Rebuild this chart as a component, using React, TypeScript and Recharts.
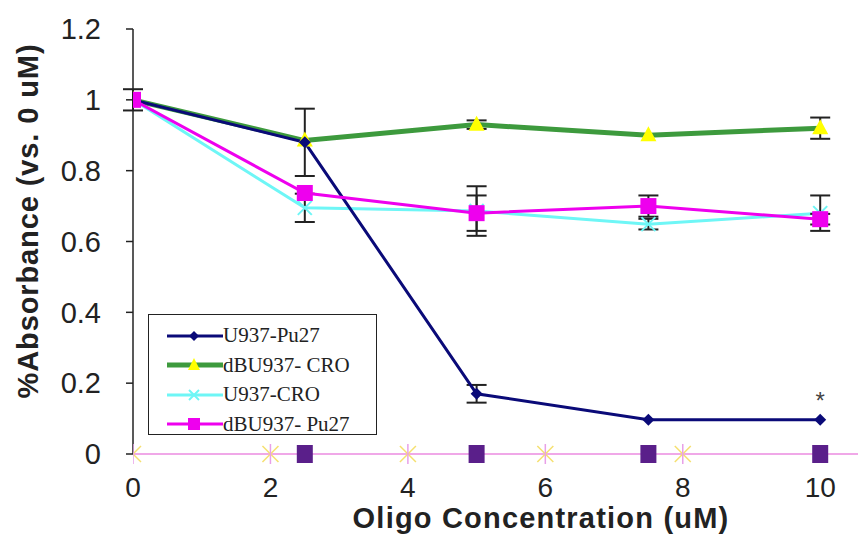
import { ComposedChart, Line, Scatter, XAxis, YAxis, ErrorBar, ReferenceLine, ReferenceDot } from "recharts";

const concentrations = [0, 2.5, 5, 7.5, 10];
const u937Pu27 = [1, 0.88, 0.17, 0.097, 0.097];
const u937Pu27Err = [0.03, 0.095, 0.025, null, null];
const dbCro = [1, 0.885, 0.93, 0.9, 0.92];
const dbCroErr = [null, null, 0.012, null, 0.03];
const u937Cro = [1, 0.695, 0.686, 0.649, 0.68];
const u937CroErr = [null, 0.04, 0.07, 0.015, 0.05];
const dbPu27 = [1, 0.737, 0.68, 0.7, 0.663];
const dbPu27Err = [null, null, 0.05, 0.03, 0.015];

const xTicks = [0, 2, 4, 6, 8, 10];
const yTicks = [0, 0.2, 0.4, 0.6, 0.8, 1, 1.2];

// stray markers sitting on the baseline in the original
const baseStarX = [0, 2, 4, 6, 8];
const baseSquareX = [2.5, 5, 7.5, 10];

const data = concentrations.map((x, i) => ({
  x,
  pu27: u937Pu27[i],
  pu27Err: u937Pu27Err[i],
  dbCro: dbCro[i],
  dbCroErr: dbCroErr[i],
  cro: u937Cro[i],
  croErr: u937CroErr[i],
  dbPu27: dbPu27[i],
  dbPu27Err: dbPu27Err[i],
}));

const starData = baseStarX.map((x) => ({ x, y: 0 }));
const squareData = baseSquareX.map((x) => ({ x, y: 0 }));

const NAVY = "#0a0a78";
const GREEN = "#3d9a3d";
const CYAN = "#6ef6f6";
const MAGENTA = "#ee00ee";
const SANS = "Liberation Sans, Arial, sans-serif";

const Diamond = (props: any) => {
  const { cx, cy } = props;
  if (cx == null || cy == null) return null;
  return <path d={`M${cx},${cy - 6} L${cx + 6},${cy} L${cx},${cy + 6} L${cx - 6},${cy} Z`} fill={NAVY} />;
};
const Triangle = (props: any) => {
  const { cx, cy } = props;
  if (cx == null || cy == null) return null;
  return <path d={`M${cx},${cy - 9} L${cx + 8},${cy + 6} L${cx - 8},${cy + 6} Z`} fill="#ffff00" />;
};
const Cross = (props: any) => {
  const { cx, cy } = props;
  if (cx == null || cy == null) return null;
  return (
    <g stroke={CYAN} strokeWidth={2}>
      <line x1={cx - 7} y1={cy - 7} x2={cx + 7} y2={cy + 7} />
      <line x1={cx - 7} y1={cy + 7} x2={cx + 7} y2={cy - 7} />
    </g>
  );
};
const Square = (props: any) => {
  const { cx, cy } = props;
  if (cx == null || cy == null) return null;
  return <rect x={cx - 8} y={cy - 8} width={16} height={16} fill={MAGENTA} />;
};
const Star = (props: any) => {
  const { cx, cy } = props;
  return (
    <g strokeWidth={1.5}>
      <line x1={cx - 8} y1={cy - 8} x2={cx + 8} y2={cy + 8} stroke="#f5e070" />
      <line x1={cx - 8} y1={cy + 8} x2={cx + 8} y2={cy - 8} stroke="#f5e070" />
      <line x1={cx} y1={cy - 10} x2={cx} y2={cy + 10} stroke="#e8a0e8" />
    </g>
  );
};
const PurpleSquare = (props: any) => {
  const { cx, cy } = props;
  return <rect x={cx - 8} y={cy - 9} width={16} height={18} fill="#5a1f8a" />;
};

const legendItems = [
  { label: "U937-Pu27", color: NAVY, width: 3, marker: "diamond" },
  { label: "dBU937- CRO", color: GREEN, width: 5, marker: "triangle" },
  { label: "U937-CRO", color: CYAN, width: 3, marker: "cross" },
  { label: "dBU937- Pu27", color: MAGENTA, width: 3, marker: "square" },
];

const LegendMarker = ({ kind, color }: { kind: string; color: string }) => {
  if (kind === "diamond") return <path d="M27,4 L32,9 L27,14 L22,9 Z" fill={NAVY} />;
  if (kind === "triangle") return <path d="M27,2 L33,14 L21,14 Z" fill="#ffff00" />;
  if (kind === "cross")
    return (
      <g stroke={color} strokeWidth={2}>
        <line x1={22} y1={4} x2={32} y2={14} />
        <line x1={22} y1={14} x2={32} y2={4} />
      </g>
    );
  return <rect x={21} y={3} width={12} height={12} fill={MAGENTA} />;
};

const XTick = (props: any) => {
  const { x, y, payload } = props;
  return (
    <text x={x} y={y + 35} textAnchor="middle" fontSize={28} fill="#222" fontFamily={SANS}>
      {payload.value}
    </text>
  );
};

export default function App() {
  return (
    <div style={{ position: "absolute", left: 0, top: 0, width: 858, height: 536, background: "#fff" }}>
      <ComposedChart
        width={858}
        height={536}
        data={data}
        margin={{ top: 29, right: 0, left: 63, bottom: 42 }}
      >
        <XAxis
          type="number"
          dataKey="x"
          domain={[0, 10.55]}
          ticks={xTicks}
          tickLine={false}
          axisLine={{ stroke: "#f0a8e8", strokeWidth: 2 }}
          tick={<XTick />}
          height={40}
          allowDataOverflow
        />
        <YAxis
          type="number"
          domain={[0, 1.2]}
          ticks={yTicks}
          width={70}
          tickSize={7}
          tickMargin={25}
          axisLine={{ stroke: "#222", strokeWidth: 1.5 }}
          tickLine={{ stroke: "#222", strokeWidth: 1.5 }}
          tick={{ fontSize: 29, fill: "#222", fontFamily: SANS }}
        />
        <ReferenceLine
          segment={[{ x: 8.2, y: 0 }, { x: 10.55, y: 0 }]}
          stroke="#5a1f8a"
          strokeWidth={2}
        />
        <Scatter data={starData} dataKey="y" shape={<Star />} isAnimationActive={false} />
        <Scatter data={squareData} dataKey="y" shape={<PurpleSquare />} isAnimationActive={false} />
        <Line dataKey="dbCro" stroke={GREEN} strokeWidth={5} dot={<Triangle />} activeDot={false} isAnimationActive={false}>
          <ErrorBar dataKey="dbCroErr" width={10} stroke="#222" strokeWidth={2} direction="y" />
        </Line>
        <Line dataKey="cro" stroke={CYAN} strokeWidth={3} dot={<Cross />} activeDot={false} isAnimationActive={false}>
          <ErrorBar dataKey="croErr" width={10} stroke="#222" strokeWidth={2} direction="y" />
        </Line>
        <Line dataKey="pu27" stroke={NAVY} strokeWidth={3} dot={<Diamond />} activeDot={false} isAnimationActive={false}>
          <ErrorBar dataKey="pu27Err" width={10} stroke="#222" strokeWidth={2} direction="y" />
        </Line>
        <Line dataKey="dbPu27" stroke={MAGENTA} strokeWidth={3} dot={<Square />} activeDot={false} isAnimationActive={false}>
          <ErrorBar dataKey="dbPu27Err" width={10} stroke="#222" strokeWidth={2} direction="y" />
        </Line>
        <ReferenceDot
          x={10}
          y={0.15}
          r={0}
          label={{ value: "*", position: "center", fontSize: 24, fill: "#444", fontFamily: SANS }}
        />
      </ComposedChart>

      <div
        style={{
          position: "absolute",
          left: 28,
          top: 221,
          transform: "translate(-50%, -50%) rotate(-90deg)",
          whiteSpace: "nowrap",
          fontFamily: SANS,
          fontWeight: "bold",
          fontSize: 29,
          letterSpacing: 0.9,
          color: "#222",
        }}
      >
        %Absorbance (vs. 0 uM)
      </div>
      <div
        style={{
          position: "absolute",
          left: 541,
          top: 518,
          transform: "translate(-50%, -50%)",
          whiteSpace: "nowrap",
          fontFamily: SANS,
          fontWeight: "bold",
          fontSize: 29,
          letterSpacing: 1.2,
          color: "#222",
        }}
      >
        Oligo Concentration (uM)
      </div>

      <div
        style={{
          position: "absolute",
          left: 148,
          top: 314,
          width: 229,
          height: 121,
          border: "1.5px solid #222",
          background: "#fff",
          boxSizing: "border-box",
          paddingTop: 6,
        }}
      >
        {legendItems.map((it) => (
          <div key={it.label} style={{ display: "flex", alignItems: "center", height: 29.5 }}>
            <svg width={56} height={18} style={{ marginLeft: 18 }}>
              <line x1={0} y1={9} x2={56} y2={9} stroke={it.color} strokeWidth={it.width} />
              <LegendMarker kind={it.marker} color={it.color} />
            </svg>
            <span
              style={{
                fontFamily: "Liberation Serif, Times New Roman, serif",
                fontSize: 21,
                color: "#222",
              }}
            >
              {it.label}
            </span>
          </div>
        ))}
      </div>
    </div>
  );
}
